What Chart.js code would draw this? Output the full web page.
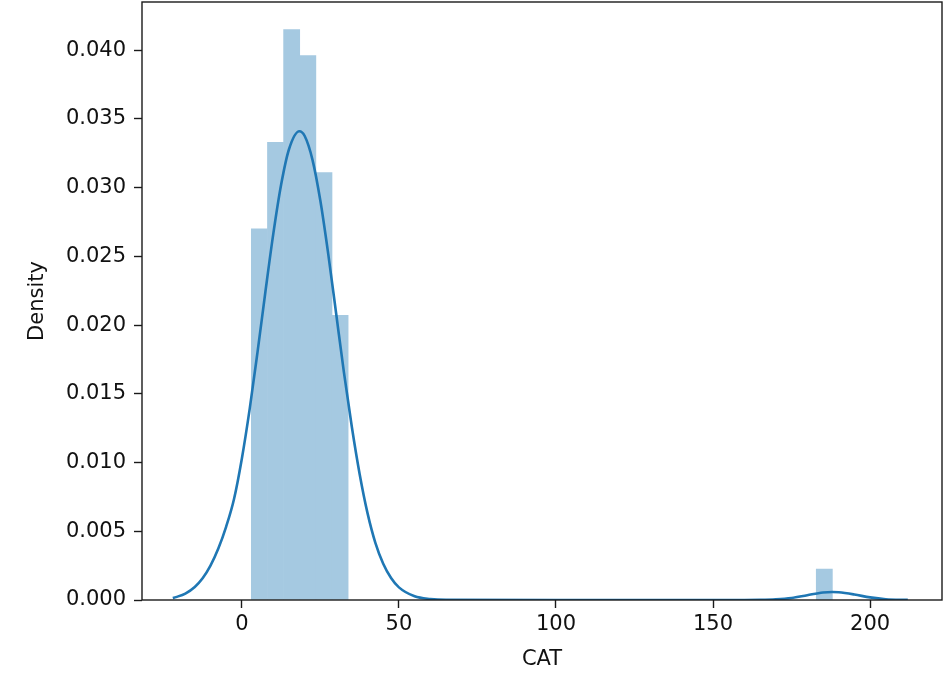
<!DOCTYPE html>
<html><head><meta charset="utf-8">
<script src="https://cdn.jsdelivr.net/npm/chart.js@4.4.1/dist/chart.umd.min.js"></script>
<style>html,body{margin:0;padding:0;background:#fff}#wrap{width:944px;height:679px}</style>
</head><body><div id="wrap"><canvas id="c" width="944" height="679"></canvas></div>
<script>
// Histogram (density) bins: centres of the non-empty bins and their densities
const binCenters = [5.57, 10.71, 15.85, 20.99, 26.13, 31.26, 185.43];
const binDensity = [0.0270, 0.0333, 0.0415, 0.0396, 0.0311, 0.0207, 0.00225];
// KDE curve
const kdeX = [-22, -21, -18, -15, -12.5, -10, -7.5, -5, -2.5, 0,
              2.5, 5, 7.5, 10, 12.5, 15, 18.3, 20, 22.5, 25,
              27.5, 30, 32.5, 35, 37.5, 40, 42.5, 45, 47.5, 50,
              55, 60, 65, 100, 130, 160, 165, 170, 175, 180,
              185, 188, 190, 195, 200, 205, 212];
const kdeY = [0.00014, 0.00021, 0.00047, 0.00095, 0.00158, 0.0025, 0.00374, 0.00534, 0.00735, 0.0103,
              0.01392, 0.01807, 0.02244, 0.02663, 0.03022, 0.03279, 0.0341, 0.03375, 0.0320, 0.02902,
              0.02516, 0.02086, 0.01654, 0.01260, 0.00915, 0.00632, 0.00416, 0.00264, 0.0016, 0.00092,
              0.00027, 0.00007, 0.00001, 0, 0, 0, 0.00001, 0.00005, 0.00015, 0.00035,
              0.00054, 0.00058, 0.00056, 0.00040, 0.00019, 0.00006, 0.00001];
const xTickValues = [0, 50, 100, 150, 200];
const yTickValues = [0, 0.005, 0.010, 0.015, 0.020, 0.025, 0.030, 0.035, 0.040];
const xTitle = 'CAT';
const yTitle = 'Density';

Chart.defaults.font.family = "'DejaVu Sans', sans-serif";
Chart.defaults.color = '#111';

const frame = {
  id: 'frame',
  afterDraw(chart) {
    const a = chart.chartArea, ctx = chart.ctx;
    ctx.save();
    ctx.strokeStyle = '#1a1a1a';
    ctx.lineWidth = 1.4;
    ctx.strokeRect(a.left, a.top, a.right - a.left, a.bottom - a.top);
    ctx.restore();
  }
};

function noPad(s) { s.paddingTop = 0; s.paddingBottom = 0; s.paddingLeft = 0; s.paddingRight = 0; }

new Chart(document.getElementById('c'), {
  type: 'bar',
  data: {
    datasets: [
      {
        type: 'line',
        data: kdeX.map((x, i) => ({x: x, y: kdeY[i]})),
        borderColor: '#1f77b4',
        borderWidth: 2.6,
        pointRadius: 0,
        fill: false,
        cubicInterpolationMode: 'monotone',
        order: 1
      },
      {
        type: 'bar',
        data: binCenters.map((x, i) => ({x: x, y: binDensity[i]})),
        backgroundColor: '#a5c9e1',
        borderWidth: 0,
        categoryPercentage: 1,
        barPercentage: 1,
        grouped: false,
        order: 2
      }
    ]
  },
  options: {
    responsive: false,
    animation: false,
    layout: {padding: {left: 21, right: 2, top: 2, bottom: 3}},
    plugins: {legend: {display: false}, tooltip: {enabled: false}},
    scales: {
      x: {
        type: 'linear',
        min: -31.8, max: 222.9,
        offset: false,
        grid: {display: true, offset: false, drawOnChartArea: false, drawTicks: true, tickLength: 8, tickColor: '#1a1a1a', tickWidth: 1.4},
        border: {display: false},
        ticks: {font: {size: 21}, padding: 4, color: '#111', callback: v => String(v)},
        afterBuildTicks: s => { s.ticks = xTickValues.map(v => ({value: v})); },
        afterFit: s => { s.height = 76; noPad(s); },
        title: {display: true, text: xTitle, font: {size: 21}, color: '#111', padding: {top: 4, bottom: 4}}
      },
      y: {
        type: 'linear',
        min: 0, max: 0.0435,
        grid: {display: true, drawOnChartArea: false, drawTicks: true, tickLength: 8, tickColor: '#1a1a1a', tickWidth: 1.4},
        border: {display: false},
        ticks: {font: {size: 21}, padding: 8, color: '#111', callback: v => Number(v).toFixed(3)},
        afterBuildTicks: s => { s.ticks = yTickValues.map(v => ({value: v})); },
        afterFit: s => { s.width = 121; noPad(s); },
        title: {display: true, text: yTitle, font: {size: 21}, color: '#111', padding: {top: 4, bottom: 4}}
      }
    }
  },
  plugins: [frame]
});
</script>
</body></html>
